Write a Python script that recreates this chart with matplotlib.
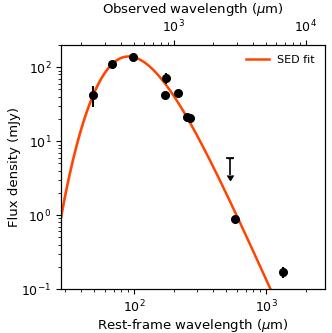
import numpy as np
import matplotlib
matplotlib.use('Agg')
import matplotlib.pyplot as plt

# Redshift of the source
Z = 4.0
T_CMB0 = 2.725

# Photometry (rest-frame wavelength in um, flux density in mJy)
lam_rest = np.array([48.6, 68.6, 97.8, 173.8, 171.8, 215.4, 250.0, 266.0, 582.0, 1352.0])
flux = np.array([42.0, 110.9, 136.8, 70.9, 42.4, 44.7, 21.0, 20.5, 0.89, 0.171])
flux_err = np.array([13.0, 4.0, 5.0, 12.0, 3.0, 3.5, 1.0, 1.0, 0.05, 0.03])

# Upper limit
lam_ul = np.array([530.0])
flux_ul = np.array([6.0])
ul_len = np.array([2.5])

# Best-fit modified blackbody (general opacity + CMB)
T_DUST = 40.0
BETA = 2.0
LAM0 = 100.0
NORM = 165.0
T_DUST_ERR = 1.0


def mbb(lam, T, norm=NORM):
    hck = 14388.0  # um K
    x = hck / (lam * T)
    tau = (LAM0 / lam) ** BETA
    bnu = x ** 3 / np.expm1(x)
    x_cmb = hck / (lam * T_CMB0 * (1 + Z))
    cmb = 1.0 - np.expm1(x) / np.expm1(x_cmb)
    return norm * (1 - np.exp(-tau)) * bnu * cmb


lam_grid = np.logspace(np.log10(20), np.log10(4000), 500)
sed = mbb(lam_grid, T_DUST)
sed_lo = mbb(lam_grid, T_DUST - T_DUST_ERR)
sed_hi = mbb(lam_grid, T_DUST + T_DUST_ERR)

fig = plt.figure(figsize=(3.32, 3.33), dpi=100)
ax = fig.add_axes([0.1837, 0.1321, 0.7953, 0.7328])

ax.fill_between(lam_grid, np.minimum(sed_lo, sed_hi), np.maximum(sed_lo, sed_hi),
                color='orangered', alpha=0.25, linewidth=0)
ax.plot(lam_grid, sed, color='orangered', linewidth=1.8, label='SED fit')

ax.errorbar(lam_rest, flux, yerr=flux_err, fmt='o', color='k', ms=5.5,
            elinewidth=1.5, capsize=0)
ax.errorbar(lam_ul, flux_ul, yerr=ul_len, uplims=True, fmt='none',
            ecolor='k', color='k', elinewidth=1.2, capsize=2.5)
ax.plot(lam_ul, flux_ul, marker='_', ms=6, mew=1.2, color='k', linestyle='none')

ax.set_xscale('log')
ax.set_yscale('log')
ax.set_xlim(28, 2800)
ax.set_ylim(0.1, 200)
ax.set_xlabel(r'Rest-frame wavelength ($\mu$m)', fontsize=9.5, labelpad=1)
ax.set_ylabel('Flux density (mJy)', fontsize=9.5, labelpad=0)
ax.tick_params(labelsize=9)
ax.legend(loc='upper right', frameon=False, fontsize=8)

ax2 = ax.twiny()
ax2.set_xscale('log')
ax2.set_xlim(28 * (1 + Z), 2800 * (1 + Z))
ax2.set_xlabel(r'Observed wavelength ($\mu$m)', fontsize=9.5)
ax2.tick_params(labelsize=9)

fig.savefig('out.png', dpi=100)
